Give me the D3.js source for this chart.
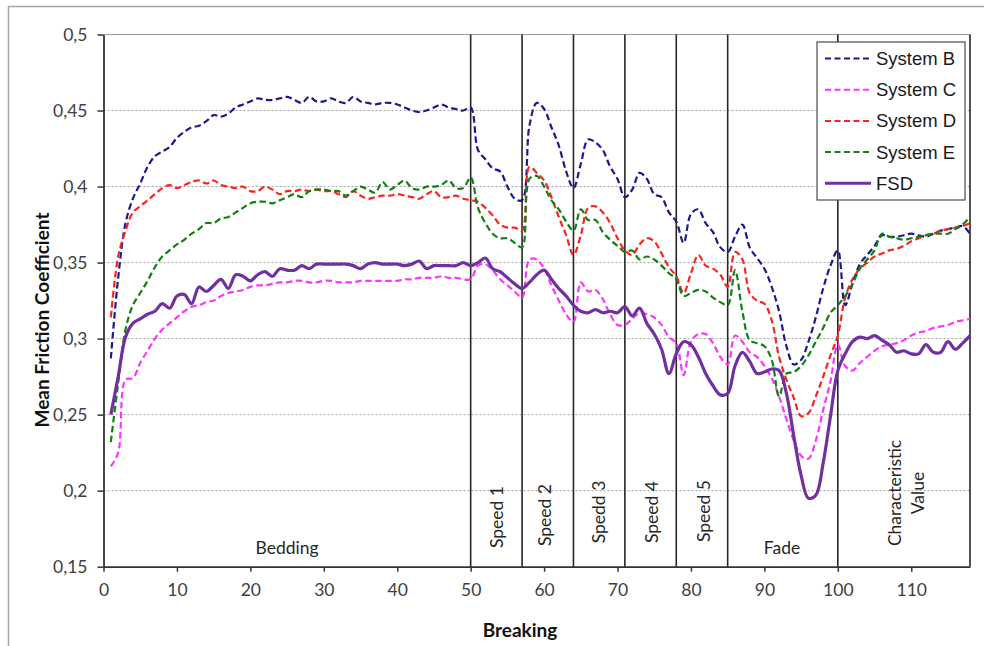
<!DOCTYPE html>
<html>
<head>
<meta charset="utf-8">
<script src="https://cdn.jsdelivr.net/npm/d3@7"></script>
<style>
  body { margin: 0; background: #fff; }
  svg { display: block; }
  .tick text { font-family: Lato, "Open Sans", sans-serif; font-size: 17.5px; fill: #404040; }
</style>
</head>
<body>
<div id="chart"></div>
<script>
	// Braking number 1..118
	var breaking = d3.range(1, 119);

	var systemB = [
		0.287, 0.340, 0.376, 0.392, 0.402, 0.413, 0.420, 0.423, 0.426, 0.432,
		0.436, 0.439, 0.440, 0.443, 0.447, 0.446, 0.448, 0.452, 0.454, 0.456,
		0.458, 0.457, 0.457, 0.458, 0.459, 0.457, 0.455, 0.459, 0.456, 0.456,
		0.458, 0.456, 0.455, 0.459, 0.456, 0.455, 0.454, 0.455, 0.455, 0.454,
		0.452, 0.450, 0.449, 0.450, 0.452, 0.454, 0.452, 0.451, 0.450, 0.452,
		0.424, 0.418, 0.412, 0.410, 0.400, 0.392, 0.391, 0.440, 0.455, 0.451,
		0.439, 0.427, 0.410, 0.399, 0.415, 0.431, 0.429, 0.424, 0.413, 0.405,
		0.393, 0.398, 0.409, 0.405, 0.395, 0.393, 0.383, 0.377, 0.363, 0.382,
		0.385, 0.376, 0.370, 0.360, 0.357, 0.367, 0.375, 0.360, 0.353, 0.346,
		0.334, 0.318, 0.295, 0.283, 0.286, 0.298, 0.314, 0.333, 0.348, 0.358,
		0.322, 0.336, 0.349, 0.355, 0.361, 0.368, 0.367, 0.367, 0.368, 0.369,
		0.368, 0.367, 0.369, 0.371, 0.372, 0.373, 0.374, 0.369
	];

	var systemC = [
		0.216, 0.225, 0.273, 0.274, 0.284, 0.292, 0.300, 0.306, 0.310, 0.314,
		0.318, 0.321, 0.322, 0.324, 0.325, 0.328, 0.330, 0.331, 0.332, 0.334,
		0.335, 0.335, 0.336, 0.337, 0.337, 0.338, 0.338, 0.337, 0.337, 0.338,
		0.338, 0.337, 0.337, 0.337, 0.338, 0.338, 0.338, 0.338, 0.338, 0.338,
		0.339, 0.339, 0.340, 0.340, 0.340, 0.341, 0.340, 0.340, 0.339, 0.339,
		0.348, 0.349, 0.345, 0.339, 0.335, 0.331, 0.327, 0.352, 0.352, 0.346,
		0.335, 0.325, 0.316, 0.311, 0.337, 0.331, 0.332, 0.326, 0.316, 0.309,
		0.309, 0.313, 0.317, 0.316, 0.314, 0.309, 0.301, 0.297, 0.276, 0.298,
		0.303, 0.303, 0.297, 0.288, 0.283, 0.302, 0.298, 0.291, 0.288, 0.282,
		0.274, 0.262, 0.247, 0.233, 0.223, 0.221, 0.233, 0.253, 0.272, 0.296,
		0.282, 0.279, 0.284, 0.288, 0.292, 0.295, 0.296, 0.297, 0.299, 0.302,
		0.304, 0.305, 0.307, 0.308, 0.309, 0.311, 0.312, 0.313
	];

	var systemD = [
		0.314, 0.354, 0.371, 0.383, 0.387, 0.391, 0.395, 0.399, 0.401, 0.399,
		0.401, 0.403, 0.404, 0.402, 0.404, 0.401, 0.400, 0.399, 0.400, 0.397,
		0.397, 0.400, 0.398, 0.395, 0.397, 0.397, 0.398, 0.397, 0.398, 0.397,
		0.397, 0.395, 0.393, 0.397, 0.394, 0.392, 0.393, 0.394, 0.394, 0.395,
		0.394, 0.393, 0.392, 0.395, 0.397, 0.393, 0.393, 0.394, 0.392, 0.391,
		0.390, 0.386, 0.381, 0.375, 0.373, 0.373, 0.371, 0.413, 0.409, 0.404,
		0.393, 0.380, 0.368, 0.355, 0.368, 0.386, 0.387, 0.383, 0.376, 0.366,
		0.358, 0.355, 0.362, 0.366, 0.364, 0.356, 0.347, 0.341, 0.330, 0.343,
		0.355, 0.348, 0.346, 0.342, 0.334, 0.357, 0.352, 0.330, 0.325, 0.323,
		0.312, 0.288, 0.273, 0.261, 0.249, 0.251, 0.262, 0.275, 0.289, 0.302,
		0.327, 0.339, 0.346, 0.350, 0.354, 0.356, 0.358, 0.359, 0.361, 0.364,
		0.366, 0.368, 0.369, 0.371, 0.372, 0.373, 0.374, 0.376
	];

	var systemE = [
		0.232, 0.271, 0.306, 0.322, 0.330, 0.338, 0.347, 0.354, 0.358, 0.362,
		0.365, 0.369, 0.372, 0.376, 0.376, 0.379, 0.380, 0.383, 0.386, 0.389,
		0.390, 0.390, 0.389, 0.391, 0.393, 0.395, 0.393, 0.397, 0.398, 0.398,
		0.397, 0.397, 0.394, 0.397, 0.400, 0.398, 0.396, 0.403, 0.398, 0.401,
		0.404, 0.399, 0.398, 0.400, 0.400, 0.401, 0.404, 0.399, 0.399, 0.406,
		0.386, 0.376, 0.369, 0.366, 0.366, 0.363, 0.360, 0.405, 0.407, 0.400,
		0.391, 0.385, 0.377, 0.371, 0.385, 0.378, 0.378, 0.370, 0.365, 0.361,
		0.357, 0.358, 0.352, 0.354, 0.352, 0.348, 0.343, 0.339, 0.328, 0.330,
		0.332, 0.331, 0.327, 0.324, 0.322, 0.345, 0.318, 0.299, 0.297, 0.295,
		0.286, 0.262, 0.277, 0.278, 0.282, 0.289, 0.298, 0.307, 0.317, 0.322,
		0.328, 0.336, 0.346, 0.352, 0.358, 0.369, 0.367, 0.366, 0.365, 0.366,
		0.367, 0.368, 0.369, 0.369, 0.369, 0.372, 0.375, 0.380
	];

	var fsd = [
		0.250, 0.275, 0.301, 0.310, 0.313, 0.316, 0.318, 0.323, 0.320, 0.328,
		0.329, 0.323, 0.334, 0.331, 0.335, 0.339, 0.333, 0.342, 0.341, 0.338,
		0.342, 0.344, 0.341, 0.346, 0.345, 0.345, 0.348, 0.346, 0.349, 0.349,
		0.349, 0.349, 0.349, 0.348, 0.346, 0.349, 0.350, 0.349, 0.349, 0.349,
		0.348, 0.349, 0.351, 0.346, 0.348, 0.348, 0.348, 0.348, 0.350, 0.348,
		0.350, 0.353, 0.346, 0.344, 0.340, 0.336, 0.333, 0.337, 0.342, 0.345,
		0.339, 0.333, 0.328, 0.322, 0.318, 0.317, 0.319, 0.317, 0.318, 0.317,
		0.321, 0.315, 0.320, 0.310, 0.303, 0.293, 0.277, 0.290, 0.298, 0.296,
		0.288, 0.277, 0.269, 0.263, 0.264, 0.282, 0.291, 0.285, 0.277, 0.278,
		0.280, 0.279, 0.264, 0.236, 0.210, 0.195, 0.197, 0.218, 0.249, 0.279,
		0.290, 0.298, 0.301, 0.300, 0.302, 0.299, 0.296, 0.291, 0.292, 0.290,
		0.290, 0.296, 0.291, 0.291, 0.298, 0.293, 0.297, 0.302
	];

	var seriesNames = ["System B", "System C", "System D", "System E", "FSD"];
	var seriesValues = [systemB, systemC, systemD, systemE, fsd];
	var seriesColors = ["#1a1a8c", "#ff33ff", "#ff2020", "#108010", "#7030a0"];

	var yTicks = [0.15, 0.2, 0.25, 0.3, 0.35, 0.4, 0.45, 0.5];
	var xTicks = [0, 10, 20, 30, 40, 50, 60, 70, 80, 90, 100, 110];

	// Phase boundaries and labels
	var phaseBounds = [50, 57, 64, 71, 78, 85, 100, 118];
	var phaseLabels = [
		{ lines: ["Bedding"], at: 25, rotate: false },
		{ lines: ["Speed 1"], at: 53.6, rotate: true },
		{ lines: ["Speed 2"], at: 60.1, rotate: true },
		{ lines: ["Spedd 3"], at: 67.5, rotate: true },
		{ lines: ["Speed 4"], at: 74.7, rotate: true },
		{ lines: ["Speed 5"], at: 81.8, rotate: true },
		{ lines: ["Fade"], at: 92.4, rotate: false },
		{ lines: ["Characteristic", "Value"], at: 109.4, rotate: true }
	];
	var labelCenters = [554, 517, 515, 512, 512, 511, 554, 493];

	var svgWidth = 984,
		svgHeight = 646,
		plotLeft = 103.5,
		plotRight = 970,
		plotTop = 34.5,
		plotBottom = 566.7;

	var svg = d3.select("#chart").append("svg")
		.attr("width", svgWidth)
		.attr("height", svgHeight);

	// outer frame (runs off the picture right and bottom)
	svg.append("rect")
		.attr("x", 8.5).attr("y", 6.5)
		.attr("width", 1000).attr("height", 700)
		.attr("fill", "#fff")
		.attr("stroke", "#a6a6a6")
		.attr("stroke-width", 1.5);

	var x = d3.scaleLinear().domain([0, 118]).range([plotLeft, plotRight]);
	var y = d3.scaleLinear().domain([0.15, 0.5]).range([plotBottom, plotTop]);

	var locale = d3.formatLocale({ decimal: ",", thousands: ".", grouping: [3], currency: ["", ""] });
	var fmt = locale.format(".2~f");

	// grid
	svg.append("g").selectAll("line")
		.data(yTicks.filter(function(d) { return d > 0.15 && d < 0.5; }))
		.enter().append("line")
			.attr("x1", plotLeft).attr("x2", plotRight)
			.attr("y1", function(d) { return y(d); })
			.attr("y2", function(d) { return y(d); })
			.attr("stroke", "#a0a0a0")
			.attr("stroke-width", 1)
			.attr("stroke-dasharray", "2,2");

	// plot top border
	svg.append("line")
		.attr("x1", plotLeft).attr("x2", plotRight)
		.attr("y1", y(0.5)).attr("y2", y(0.5))
		.attr("stroke", "#9a9a9a").attr("stroke-width", 1.2);

	// phase separators
	svg.append("g").selectAll("line")
		.data(phaseBounds)
		.enter().append("line")
			.attr("x1", function(d) { return x(d); })
			.attr("x2", function(d) { return x(d); })
			.attr("y1", plotTop).attr("y2", plotBottom)
			.attr("stroke", "#262626")
			.attr("stroke-width", 1.6);

	// phase labels
	var labelGroup = svg.append("g")
		.attr("font-family", "Lato, 'Open Sans', sans-serif")
		.attr("font-size", 17.5)
		.attr("fill", "#262626");

	phaseLabels.forEach(function(lab, i) {
		var cx = x(lab.at),
			cy = labelCenters[i];
		var t = labelGroup.append("text")
			.attr("text-anchor", "middle");
		if(lab.rotate) {
			t.attr("transform", "translate(" + cx + "," + cy + ") rotate(-90)");
			lab.lines.forEach(function(line, j) {
				t.append("tspan")
					.attr("x", 0)
					.attr("y", (j - (lab.lines.length - 1) / 2) * 23 + 6)
					.text(line);
			});
		} else {
			t.attr("x", cx).attr("y", cy).text(lab.lines[0]);
		}
	});

	// lines
	var line = d3.line()
		.x(function(d) { return x(d[0]); })
		.y(function(d) { return y(d[1]); })
		.curve(d3.curveCatmullRom.alpha(0.5));

	seriesValues.forEach(function(vals, i) {
		var pts = breaking.map(function(b, k) { return [b, vals[k]]; });
		svg.append("path")
			.datum(pts)
			.attr("d", line)
			.attr("fill", "none")
			.attr("stroke", seriesColors[i])
			.attr("stroke-width", i === 4 ? 3.2 : 2.2)
			.attr("stroke-dasharray", i === 4 ? null : "6.5,3.5")
			.attr("stroke-linejoin", "round");
	});

	// axes
	var yAxis = d3.axisLeft(y)
		.tickValues(yTicks)
		.tickSize(6)
		.tickSizeOuter(0)
		.tickPadding(10)
		.tickFormat(fmt);

	var xAxis = d3.axisBottom(x)
		.tickValues(xTicks)
		.tickSize(5)
		.tickSizeOuter(0)
		.tickPadding(12)
		.tickFormat(d3.format("d"));

	var gy = svg.append("g")
		.attr("transform", "translate(" + plotLeft + ",0)")
		.call(yAxis);
	var gx = svg.append("g")
		.attr("transform", "translate(0," + plotBottom + ")")
		.call(xAxis);

	[gx, gy].forEach(function(g) {
		g.select(".domain").attr("stroke", "#333").attr("stroke-width", 1.8);
		g.selectAll(".tick line").attr("stroke", "#333").attr("stroke-width", 1.5);
	});

	// axis titles
	svg.append("text")
		.attr("transform", "translate(49,320) rotate(-90)")
		.attr("text-anchor", "middle")
		.attr("font-family", "Lato, 'Open Sans', sans-serif")
		.attr("font-weight", "bold")
		.attr("font-size", 19)
		.attr("fill", "#111")
		.text("Mean Friction Coefficient");

	svg.append("text")
		.attr("x", 520)
		.attr("y", 637)
		.attr("text-anchor", "middle")
		.attr("font-family", "Lato, 'Open Sans', sans-serif")
		.attr("font-weight", "bold")
		.attr("font-size", 19)
		.attr("fill", "#111")
		.text("Breaking");

	// legend
	var legend = svg.append("g").attr("transform", "translate(817,42)");
	legend.append("rect")
		.attr("width", 148).attr("height", 158)
		.attr("fill", "#fff")
		.attr("stroke", "#595959")
		.attr("stroke-width", 1.3);

	var items = legend.selectAll(".item")
		.data(seriesNames)
		.enter().append("g")
			.attr("class", "item")
			.attr("transform", function(d, i) { return "translate(0," + (16.5 + i * 31.2) + ")"; });

	items.append("line")
		.attr("x1", 8).attr("x2", 54)
		.attr("stroke", function(d, i) { return seriesColors[i]; })
		.attr("stroke-width", function(d, i) { return i === 4 ? 3 : 2; })
		.attr("stroke-dasharray", function(d, i) { return i === 4 ? null : "6,3.5"; });

	items.append("text")
		.attr("x", 59)
		.attr("y", 6.5)
		.attr("font-family", "'Liberation Sans', Arial, sans-serif")
		.attr("font-size", 18.5)
		.attr("fill", "#1a1a1a")
		.text(function(d) { return d; });
</script>
</body>
</html>
